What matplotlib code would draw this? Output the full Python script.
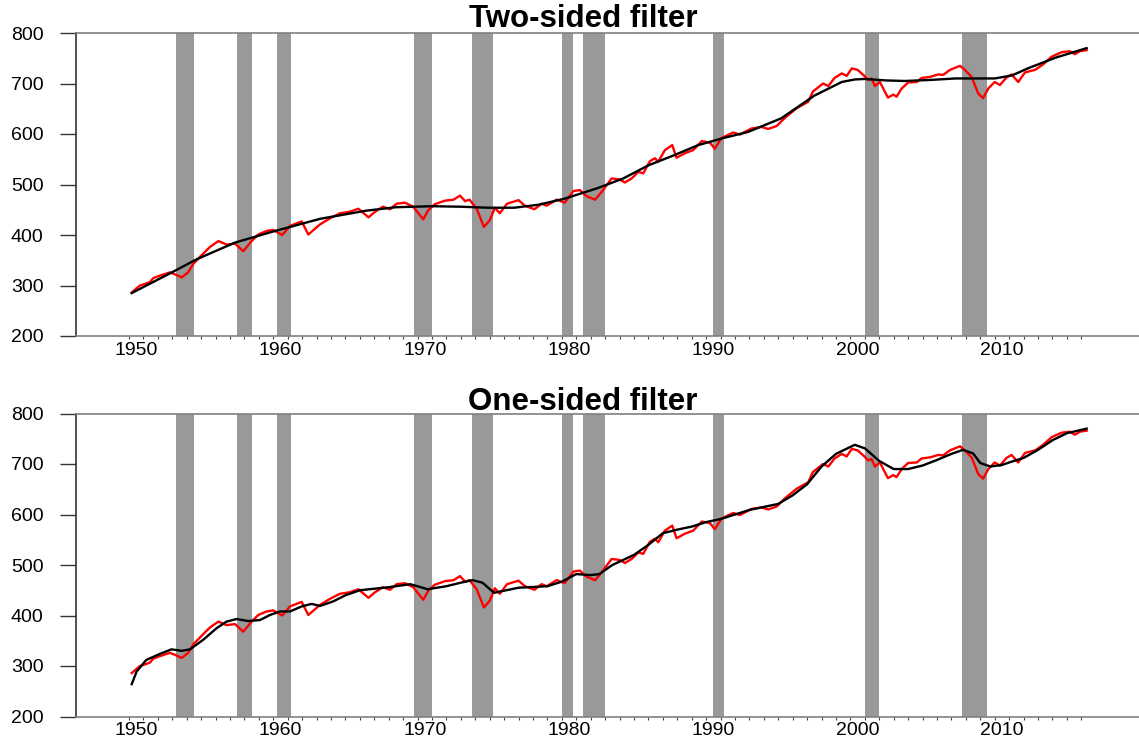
"""
Trend of a quarterly series: two-sided vs one-sided filter
"""
import numpy as np
import matplotlib
matplotlib.use("Agg")
from matplotlib import pyplot as plt

plt.rcParams["font.family"] = ["Liberation Sans", "DejaVu Sans"]

# Red series, time in years
SERIES_T = [1950.19, 1950.76, 1951.2, 1951.46, 1951.7, 1952.4, 1952.84, 1953.2, 1953.65,
            1954.1, 1954.46, 1955.04, 1955.6, 1956.2, 1956.77, 1957.35, 1957.92, 1958.5,
            1958.96, 1959.54, 1960.0, 1960.62, 1961.16, 1961.97, 1962.43, 1963.24, 1963.93,
            1964.62, 1965.3, 1965.9, 1966.6, 1967.05, 1967.6, 1968.1, 1968.55, 1969.13,
            1969.7, 1970.4, 1970.74, 1971.2, 1971.9, 1972.5, 1972.94, 1973.3, 1973.6,
            1974.1, 1974.6, 1975.0, 1975.36, 1975.7, 1976.2, 1977.0, 1977.44, 1978.1,
            1978.6, 1978.95, 1979.64, 1980.2, 1980.8, 1981.25, 1981.7, 1982.3, 1982.75,
            1983.45, 1984.0, 1984.37, 1984.84, 1985.3, 1985.64, 1986.1, 1986.45, 1986.68,
            1987.14, 1987.65, 1987.95, 1988.53, 1989.1, 1989.7, 1990.26, 1990.6, 1991.07,
            1991.87, 1992.34, 1993.15, 1993.84, 1994.3, 1994.9, 1995.46, 1996.27, 1997.08,
            1997.4, 1998.1, 1998.47, 1998.9, 1999.4, 1999.74, 2000.1, 2000.5, 2000.97,
            2001.23, 2001.46, 2001.7, 2002.04, 2002.6, 2002.97, 2003.2, 2003.55, 2004.0,
            2004.6, 2004.93, 2005.5, 2006.1, 2006.43, 2006.9, 2007.6, 2007.93, 2008.4,
            2008.86, 2009.2, 2009.55, 2010.0, 2010.36, 2010.82, 2011.17, 2011.63, 2012.1,
            2012.8, 2013.36, 2013.94, 2014.64, 2015.2, 2015.56, 2015.9, 2016.37]
SERIES_V = [286, 300, 304, 307, 315, 322, 326, 322, 316,
            326, 343, 360, 376, 388, 381, 383, 368, 388,
            401, 408, 410, 400, 418, 427, 401, 421, 433,
            443, 446, 452, 435, 446, 456, 451, 462, 464,
            456, 431, 449, 461, 468, 470, 478, 467, 470,
            452, 416, 429, 454, 443, 462, 469, 458, 451,
            462, 458, 470, 464, 487, 489, 477, 470, 485,
            512, 510, 504, 512, 525, 522, 546, 552, 545,
            568, 578, 553, 562, 568, 586, 583, 571, 592,
            603, 599, 611, 614, 610, 616, 632, 651, 664,
            684, 700, 695, 711, 720, 715, 730, 727, 715,
            707, 710, 695, 703, 672, 678, 674, 690, 702,
            703, 711, 713, 718, 717, 727, 735, 727, 713,
            680, 671, 690, 703, 697, 712, 718, 703, 722,
            727, 738, 753, 762, 764, 758, 764, 766]

# Two-sided filter trend
TWO_T = [1950.19, 1952.84, 1954.7, 1957.35, 1960.0, 1963.24, 1966.4, 1968.5, 1971.0,
         1973.0, 1974.9, 1976.7, 1978.4, 1980.2, 1982.5, 1984.26, 1986.0, 1987.7,
         1989.45, 1991.2, 1992.9, 1995.2, 1997.5, 1999.4, 2000.3, 2001.0, 2002.5,
         2003.8, 2005.5, 2007.3, 2010.0, 2011.2, 2012.3, 2014.2, 2016.37]
TWO_V = [285, 324, 352, 385, 407, 432, 448, 455, 457,
         456, 454, 454, 460, 472, 493, 512, 538, 557,
         578, 592, 604, 631, 676, 703, 708, 709, 706,
         705, 707, 710, 710, 716, 730, 751, 770]

# One-sided filter trend
ONE_T = [1950.19, 1950.53, 1951.2, 1952.15, 1952.95, 1953.65, 1954.23, 1955.15, 1956.08,
         1956.77, 1957.46, 1958.27, 1959.08, 1959.77, 1960.46, 1961.16, 1961.97, 1962.66,
         1963.24, 1964.16, 1965.0, 1966.0, 1968.0, 1969.5, 1970.7, 1972.0, 1973.0,
         1973.8, 1974.5, 1975.3, 1977.0, 1979.0, 1980.0, 1981.0, 1982.0, 1982.6,
         1983.5, 1985.0, 1986.0, 1987.0, 1988.0, 1989.0, 1990.0, 1991.0, 1992.0,
         1993.0, 1994.0, 1995.0, 1996.0, 1997.0, 1998.0, 1999.0, 2000.3, 2001.0,
         2002.0, 2003.0, 2004.0, 2005.0, 2006.0, 2007.0, 2007.8, 2008.5, 2009.0,
         2009.7, 2010.5, 2011.0, 2012.0, 2013.0, 2014.0, 2015.0, 2016.37]
ONE_V = [264, 289, 312, 324, 333, 330, 333, 352, 375,
         388, 393, 389, 391, 401, 408, 408, 418, 423,
         419, 428, 440, 450, 456, 462, 452, 458, 465,
         470, 465, 445, 455, 458, 467, 482, 480, 482,
         500, 520, 540, 563, 570, 576, 585, 591, 600,
         609, 615, 621, 638, 660, 695, 720, 738, 731,
         706, 690, 690, 697, 708, 720, 728, 721, 702,
         695, 698, 703, 712, 728, 747, 761, 770]

# Recessions (quarter start of peak, quarter end of trough)
REC_START = [1953.25, 1957.5, 1960.25, 1969.75, 1973.75, 1980.0, 1981.5, 1990.5, 2001.0, 2007.75]
REC_END = [1954.5, 1958.5, 1961.25, 1971.0, 1975.25, 1980.75, 1983.0, 1991.25, 2002.0, 2009.5]

YTICKS = [200, 300, 400, 500, 600, 700, 800]
DECADES = [1950, 1960, 1970, 1980, 1990, 2000, 2010]


def draw_panel(ax, trend_t, trend_v):
    for a, b in zip(REC_START, REC_END):
        ax.axvspan(a, b, color="#999999", lw=0, zorder=1)
    ax.plot(SERIES_T, SERIES_V, color="red", lw=1.7, zorder=3)
    ax.plot(trend_t, trend_v, color="black", lw=1.7, zorder=4)

    ax.set_xlim(1946.33, 2020.0)
    ax.set_ylim(200, 800)

    # yearly ticks, decade labels centred on the year
    ax.set_xticks(np.arange(1950, 2017), labels=[])
    ax.set_xticks([d + 0.5 for d in DECADES], labels=[str(d) for d in DECADES], minor=True)
    ax.tick_params(axis="x", which="major", direction="out", length=2.5, width=0.8,
                   color="#444444")
    ax.tick_params(axis="x", which="minor", length=0, pad=4, labelsize=14)
    ax.set_yticks(YTICKS)
    ax.tick_params(axis="y", direction="out", length=11.5, width=1.0, color="#333333",
                   pad=12, labelsize=14)

    ax.spines["right"].set_visible(False)
    ax.spines["top"].set_color("#808080")
    ax.spines["bottom"].set_color("#808080")
    ax.spines["left"].set_color("#333333")
    for s in ("top", "bottom", "left"):
        ax.spines[s].set_linewidth(1.2)


fig = plt.figure(figsize=(11.39, 7.42), dpi=100)
ax1 = fig.add_axes([76 / 1139, 1 - 336 / 742, 1 - 76 / 1139, 303 / 742])
ax2 = fig.add_axes([76 / 1139, 1 - 716.5 / 742, 1 - 76 / 1139, 303 / 742])

draw_panel(ax1, TWO_T, TWO_V)
draw_panel(ax2, ONE_T, ONE_V)

fig.text(583 / 1139, 1 - 19 / 742, "Two-sided filter", ha="center", va="center",
         fontsize=22.5, fontweight="bold", zorder=10)
fig.text(583 / 1139, 1 - 402 / 742, "One-sided filter", ha="center", va="center",
         fontsize=22.5, fontweight="bold", zorder=10)

fig.savefig("out.png", dpi=100)
